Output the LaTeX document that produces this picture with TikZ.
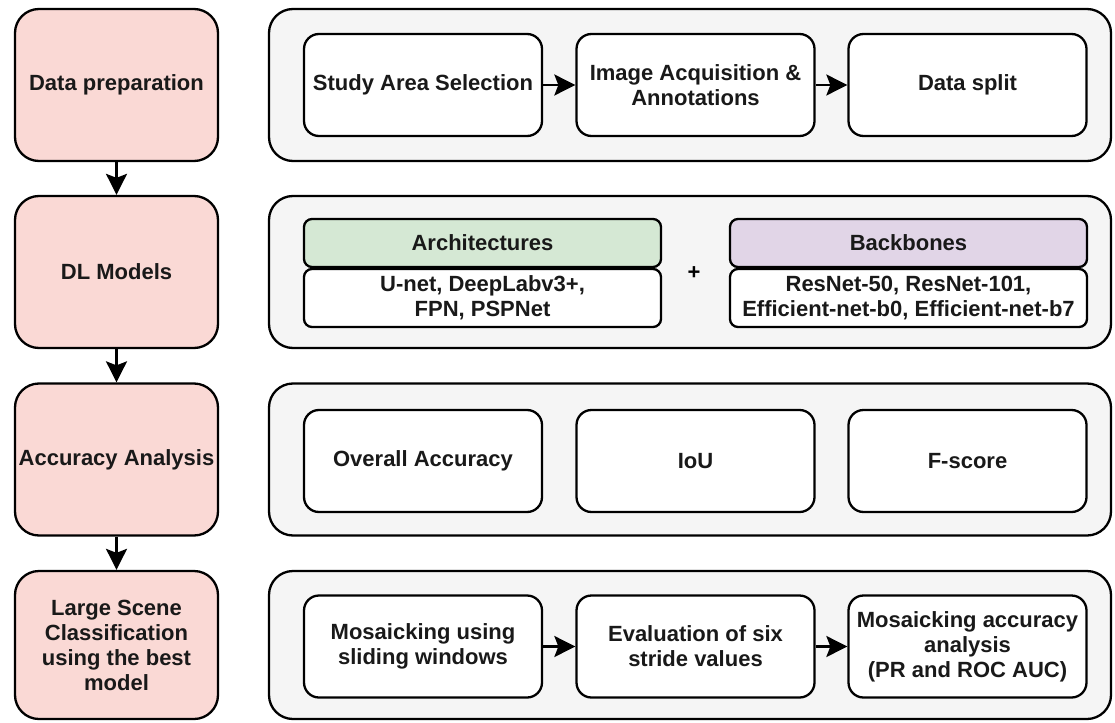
\documentclass[tikz,border=0pt]{standalone}
\usepackage{fontspec}
\setmainfont{Liberation Sans}
\usetikzlibrary{arrows.meta,positioning}
\definecolor{phasepink}{HTML}{FAD9D5}
\definecolor{panelgray}{HTML}{F5F5F5}
\definecolor{archgreen}{HTML}{D5E8D4}
\definecolor{bonepurple}{HTML}{E1D5E7}
\tikzset{
  box/.style={draw=black, line width=2.3pt, align=center, text=black!90,
    font=\bfseries\fontsize{22}{25}\selectfont, inner sep=0pt},
  phase/.style={box, fill=phasepink, rounded corners=24pt, minimum width=203pt, minimum height=152pt},
  panel/.style={box, fill=panelgray, rounded corners=24pt, minimum width=842pt, minimum height=152pt},
  item/.style={box, fill=white, rounded corners=15pt, minimum width=238pt, minimum height=102pt},
  header/.style={box, rounded corners=8pt, minimum width=357pt, minimum height=48pt},
  body/.style={box, fill=white, rounded corners=8pt, minimum width=357pt, minimum height=58pt},
  flow/.style={line width=2.3pt, -{Stealth[length=21pt,width=21pt,inset=4pt]}}
}
\begin{document}
\begin{tikzpicture}[x=1pt,y=-1pt]
\useasboundingbox (0,0) rectangle (1115,722);

% phases on the left
\node[phase] (prep) at (116.5,85) {Data preparation};
\node[phase] (models) at (116.5,272) {DL Models};
\node[phase] (acc) at (116.5,459.5) {Accuracy Analysis};
\node[phase, minimum height=148pt] (scene) at (116.5,645) {Large Scene\\Classification\\using the best\\model};
\draw[flow] (prep) -- (models);
\draw[flow] (models) -- (acc);
\draw[flow] (acc) -- (scene);

% panels on the right
\node[panel] (prepP) at (690,85) {};
\node[panel] (modelsP) at (690,272) {};
\node[panel] (accP) at (690,459.5) {};
\node[panel, minimum height=148pt] (sceneP) at (690,645) {};

% data preparation
\node[item] (area) at (423,85) {Study Area Selection};
\node[item] (acq) at (695.5,85) {Image Acquisition \&\\Annotations};
\node[item] (split) at (967.5,85) {Data split};
\draw[flow] (area) -- (acq);
\draw[flow] (acq) -- (split);

% models
\node[header, fill=archgreen] (arch) at (482.5,243) {Architectures};
\node[body] (archL) at (482.5,298) {U-net, DeepLabv3+,\\FPN, PSPNet};
\node[header, fill=bonepurple] (bone) at (908.5,243) {Backbones};
\node[body] (boneL) at (908.5,298) {ResNet-50, ResNet-101,\\Efficient-net-b0, Efficient-net-b7};
\node[font=\bfseries\fontsize{22}{25}\selectfont] (plus) at (694,273) {+};

% accuracy
\node[item] (oa) at (423,461) {Overall Accuracy};
\node[item] (iou) at (695.5,461) {IoU};
\node[item] (fs) at (967.5,461) {F-score};

% large scene
\node[item] (mosaic) at (423,646.5) {Mosaicking using\\sliding windows};
\node[item] (stride) at (695.5,646.5) {Evaluation of six\\stride values};
\node[item] (mosacc) at (967.5,646.5) {Mosaicking accuracy\\analysis\\(PR and ROC AUC)};
\draw[flow] (mosaic) -- (stride);
\draw[flow] (stride) -- (mosacc);
\end{tikzpicture}
\end{document}
